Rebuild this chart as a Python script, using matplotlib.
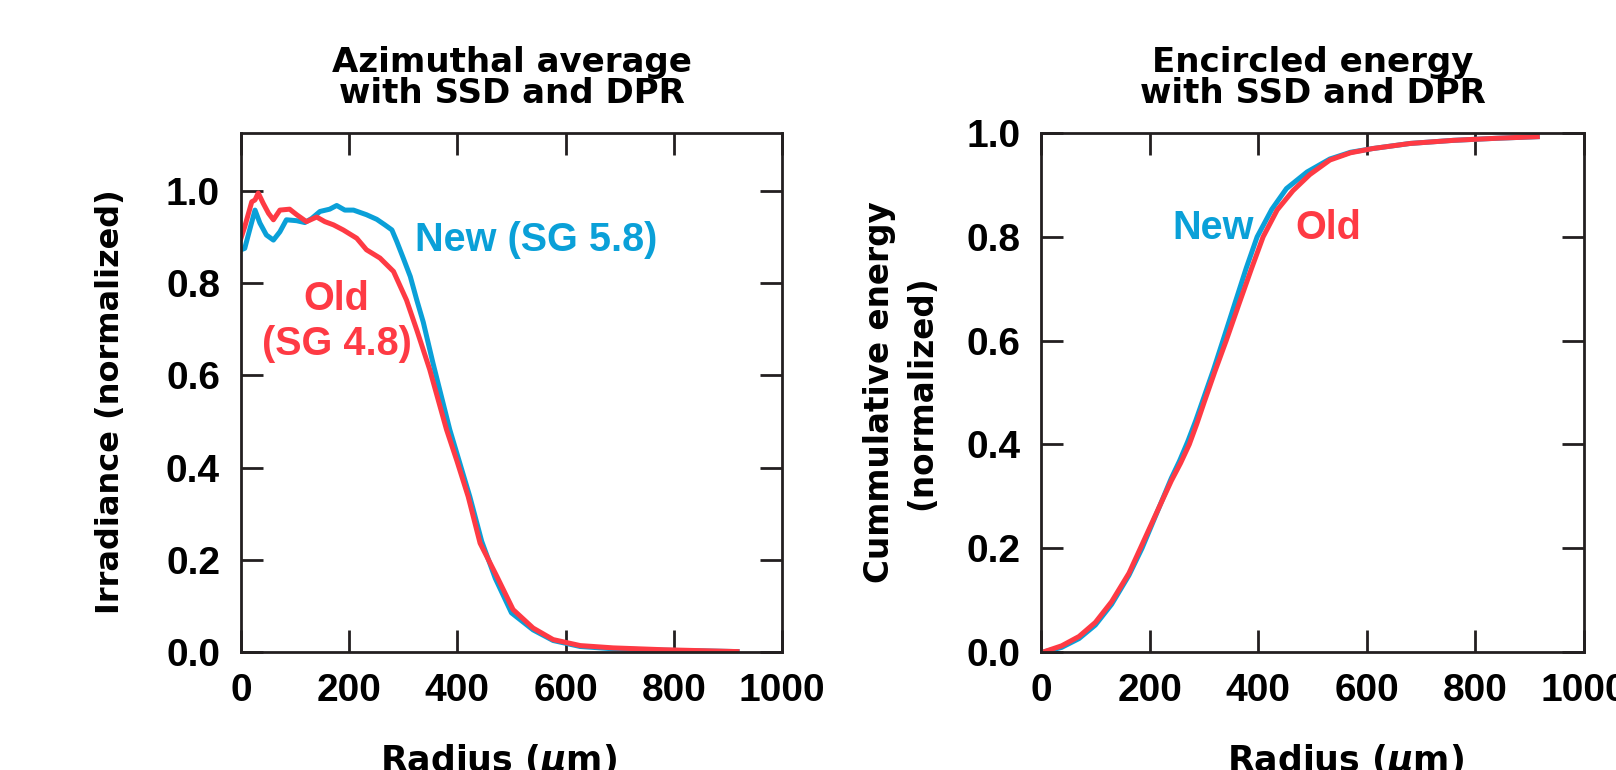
import matplotlib.pyplot as plt

# Azimuthal average (irradiance vs radius, um)
new_r = [0, 7, 17, 26, 35, 47, 60, 72, 84, 103, 118, 131, 146, 164, 177, 192, 208,
         232, 251, 266, 279, 288, 300, 313, 325, 337, 355, 386, 423, 445, 470, 500,
         540, 577, 627, 688, 781, 917]
new_irr = [0.872, 0.875, 0.919, 0.958, 0.930, 0.904, 0.893, 0.911, 0.937, 0.935, 0.931,
           0.940, 0.955, 0.960, 0.968, 0.958, 0.958, 0.948, 0.938, 0.926, 0.915, 0.890,
           0.854, 0.814, 0.763, 0.715, 0.626, 0.482, 0.337, 0.240, 0.160, 0.085, 0.048,
           0.025, 0.012, 0.007, 0.004, 0.001]

old_r = [0, 7, 20, 26, 32, 41, 51, 60, 72, 90, 103, 121, 140, 155, 171, 189, 214, 232,
         257, 282, 306, 325, 349, 380, 399, 420, 442, 473, 503, 540, 577, 627, 688, 781,
         917]
old_irr = [0.897, 0.922, 0.976, 0.980, 0.995, 0.973, 0.951, 0.937, 0.958, 0.960, 0.948,
           0.933, 0.943, 0.933, 0.926, 0.915, 0.897, 0.872, 0.854, 0.825, 0.763, 0.698,
           0.612, 0.482, 0.415, 0.337, 0.236, 0.164, 0.092, 0.052, 0.027, 0.014, 0.009,
           0.005, 0.001]

# Encircled energy (cumulative)
new_ee_r = [4, 38, 70, 100, 130, 162, 186, 212, 240, 255, 270, 285, 298, 318, 335, 358,
            378, 398, 425, 452, 490, 532, 570, 610, 680, 760, 840, 914]
new_ee = [0.0, 0.009, 0.026, 0.052, 0.092, 0.148, 0.200, 0.265, 0.335, 0.368, 0.405,
          0.446, 0.485, 0.545, 0.600, 0.675, 0.740, 0.800, 0.853, 0.893, 0.925, 0.950,
          0.963, 0.970, 0.980, 0.986, 0.990, 0.993]

old_ee_r = [4, 38, 70, 100, 130, 162, 183, 210, 240, 257, 273, 287, 300, 320, 341, 365,
            388, 409, 435, 464, 495, 532, 570, 610, 680, 760, 840, 914]
old_ee = [0.0, 0.012, 0.030, 0.057, 0.097, 0.152, 0.200, 0.262, 0.330, 0.364, 0.400,
          0.440, 0.480, 0.540, 0.600, 0.672, 0.740, 0.800, 0.852, 0.889, 0.920, 0.948,
          0.962, 0.970, 0.980, 0.986, 0.990, 0.993]

x_ticks = [0, 200, 400, 600, 800, 1000]
y_ticks = [0.0, 0.2, 0.4, 0.6, 0.8, 1.0]

BLUE = '#0aa0d8'
RED = '#fe3a44'

plt.rcParams['font.family'] = ['Liberation Sans', 'DejaVu Sans']
plt.rcParams['font.weight'] = 'bold'
plt.rcParams['mathtext.fontset'] = 'custom'
plt.rcParams['mathtext.rm'] = 'DejaVu Sans:bold'
plt.rcParams['mathtext.it'] = 'DejaVu Sans:italic:bold'

WIDE = ['DejaVu Sans']


def style_axes(ax, xlabel_x):
    for s in ax.spines.values():
        s.set_linewidth(2)
        s.set_color('#231f20')
    ax.tick_params(direction='in', length=16, width=2, color='#231f20',
                   top=True, right=True, labelsize=28, pad=15)
    ax.set_xlim(0, 1000)
    ax.set_xticks(x_ticks)
    ax.set_xticklabels([str(t) for t in x_ticks])
    ax.set_yticks(y_ticks)
    ax.set_yticklabels([f'{t:.1f}' for t in y_ticks])
    ax.set_xlabel(r'Radius ($\mathit{\mu}$m)', fontsize=25, fontweight='bold',
                  family=WIDE, labelpad=24)
    ax.xaxis.label.set_x(xlabel_x)


fig = plt.figure(figsize=(16.16, 7.70), dpi=100)
ax1 = fig.add_axes([0.1491, 0.1532, 0.3348, 0.6740])
ax2 = fig.add_axes([0.6442, 0.1532, 0.3360, 0.6740])

# left panel
ax1.plot(new_r, new_irr, color=BLUE, lw=3.6, solid_joinstyle='round')
ax1.plot(old_r, old_irr, color=RED, lw=3.6, solid_joinstyle='round')
style_axes(ax1, 0.476)
ax1.set_ylim(0, 1.125)
ax1.set_title('Azimuthal average\nwith SSD and DPR', fontsize=24.5, fontweight='bold',
              family=WIDE, pad=22, linespacing=0.9)
ax1.set_ylabel('Irradiance (normalized)', fontsize=23, fontweight='bold', family=WIDE)
ax1.yaxis.set_label_coords(-0.213, 0.482)
ax1.text(322, 0.893, 'New (SG 5.8)', color=BLUE, fontsize=28.5, fontweight='bold',
         ha='left', va='center')
ax1.text(177, 0.716, 'Old\n(SG 4.8)', color=RED, fontsize=28.5, fontweight='bold',
         ha='center', va='center', linespacing=1.25)

# right panel
ax2.plot(new_ee_r, new_ee, color=BLUE, lw=3.6, solid_joinstyle='round')
ax2.plot(old_ee_r, old_ee, color=RED, lw=3.6, solid_joinstyle='round')
style_axes(ax2, 0.561)
ax2.set_ylim(0, 1.0)
ax2.set_title('Encircled energy\nwith SSD and DPR', fontsize=24.5, fontweight='bold',
              family=WIDE, pad=22, linespacing=0.9)
ax2.set_ylabel('Cummulative energy\n(normalized)', fontsize=23.5, fontweight='bold',
               family=WIDE, linespacing=1.35)
ax2.yaxis.set_label_coords(-0.19, 0.5)
ax2.text(241, 0.818, 'New', color=BLUE, fontsize=28.5, fontweight='bold',
         ha='left', va='center')
ax2.text(468, 0.818, 'Old', color=RED, fontsize=28.5, fontweight='bold',
         ha='left', va='center')

fig.savefig('out.png', dpi=100)
